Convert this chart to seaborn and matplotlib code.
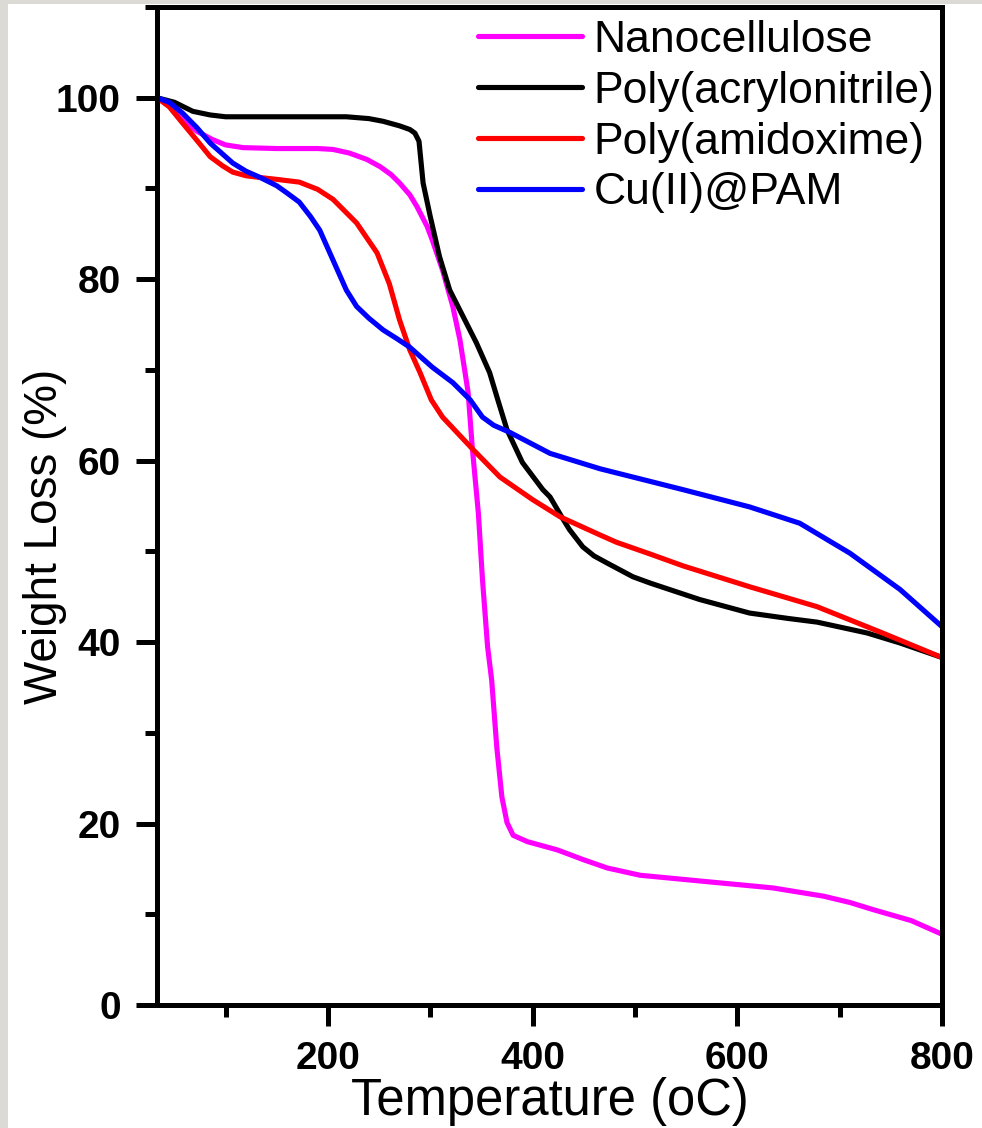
import matplotlib
matplotlib.use("Agg")
import matplotlib.pyplot as plt
from matplotlib.patches import Rectangle
from matplotlib.ticker import FixedLocator
from matplotlib.lines import Line2D
import seaborn as sns
import pandas as pd

# ---- data ----
nano_T = [33, 45, 58, 72, 87, 100, 117, 150, 190, 205, 221, 238, 251, 262, 270, 280, 287,
          297, 302, 312, 322, 329, 334, 337, 341, 347, 351, 356, 360, 365, 370, 375, 381,
          395, 424, 450, 473, 505, 570, 635, 684, 710, 733, 770, 800]
nano_W = [100, 99.4, 97.6, 96.3, 95.4, 94.8, 94.5, 94.4, 94.4, 94.3, 93.9, 93.2, 92.4, 91.5,
          90.6, 89.3, 88.0, 85.8, 84.3, 81.0, 77.0, 73.3, 69.7, 67.5, 61.5, 54.2, 46.9, 39.5,
          35.8, 28.4, 22.9, 20.1, 18.7, 18.0, 17.1, 16.0, 15.1, 14.3, 13.6, 12.9, 12.0, 11.3,
          10.5, 9.3, 7.8]

pan_T = [33, 50, 68, 85, 100, 150, 218, 240, 254, 270, 280, 285, 289, 293, 300, 309, 319,
         332, 345, 358, 366, 375, 390, 410, 417, 430, 436, 449, 460, 473, 498, 515, 563, 612,
         650, 678, 727, 759, 800]
pan_W = [100, 99.5, 98.5, 98.1, 97.9, 97.9, 97.9, 97.7, 97.4, 96.9, 96.5, 96.1, 95.2, 90.6,
         86.9, 82.5, 78.8, 75.9, 73.0, 69.7, 66.7, 63.4, 59.8, 56.8, 56.0, 53.5, 52.4, 50.5,
         49.5, 48.7, 47.2, 46.5, 44.7, 43.2, 42.6, 42.2, 41.0, 39.9, 38.3]

pam_T = [33, 45, 58, 72, 85, 97, 107, 120, 134, 150, 172, 190, 205, 228, 248, 260, 270, 280,
         290, 301, 312, 327, 342, 368, 400, 427, 466, 482, 515, 547, 612, 678, 742, 800]
pam_W = [100, 99.0, 97.2, 95.3, 93.5, 92.5, 91.8, 91.4, 91.2, 91.0, 90.7, 89.9, 88.8, 86.2,
         82.9, 79.5, 75.5, 72.2, 69.7, 66.7, 64.8, 63.0, 61.2, 58.2, 55.7, 53.8, 51.8, 51.0,
         49.7, 48.4, 46.1, 43.9, 41.0, 38.3]

cu_T = [33, 45, 58, 72, 85, 97, 107, 120, 134, 150, 160, 172, 183, 192, 205, 218, 228, 240,
        254, 268, 280, 302, 322, 339, 351, 362, 378, 417, 466, 547, 612, 661, 710, 759, 800]
cu_W = [100, 99.5, 98.3, 96.7, 95.0, 93.8, 92.8, 91.9, 91.2, 90.3, 89.5, 88.5, 86.9, 85.4,
        82.1, 78.8, 77.0, 75.7, 74.4, 73.4, 72.5, 70.3, 68.6, 66.7, 64.8, 63.9, 63.1, 60.8,
        59.1, 56.8, 54.9, 53.1, 49.8, 45.8, 41.7]

series_names = ["Nanocellulose", "Poly(acrylonitrile)", "Poly(amidoxime)", "Cu(II)@PAM"]
series_colors = ["#ff00ff", "#000000", "#ff0000", "#0000ff"]
x_major_ticks = [200, 400, 600, 800]
x_minor_ticks = [100, 300, 500, 700]
y_major_ticks = [0, 20, 40, 60, 80, 100]
y_minor_ticks = [10, 30, 50, 70, 90, 110]

frames = []
for name, T, W in zip(series_names, [nano_T, pan_T, pam_T, cu_T], [nano_W, pan_W, pam_W, cu_W]):
    frames.append(pd.DataFrame({"T": T, "W": W, "series": name}))
df = pd.concat(frames, ignore_index=True)

# ---- style ----
sns.set_theme(style="ticks")
plt.rcParams["font.family"] = ["Liberation Sans", "DejaVu Sans"]
for k in ["text.color", "axes.labelcolor", "xtick.color", "ytick.color", "axes.edgecolor"]:
    plt.rcParams[k] = "black"

W_PX, H_PX, DPI = 982, 1128, 100
fig = plt.figure(figsize=(W_PX / DPI, H_PX / DPI), dpi=DPI, facecolor="#dcdad5")
fig.patches.append(Rectangle((8 / W_PX, 0), 1 - 8 / W_PX, 1 - 4 / H_PX,
                             transform=fig.transFigure, facecolor="white",
                             edgecolor="none", zorder=-10))

left, right, bottom, top = 157 / W_PX, 942 / W_PX, 1 - 1005 / H_PX, 1 - 7 / H_PX
ax = fig.add_axes([left, bottom, right - left, top - bottom])
ax.set_facecolor("white")

sns.lineplot(data=df, x="T", y="W", hue="series", hue_order=series_names,
             palette=dict(zip(series_names, series_colors)), estimator=None,
             sort=False, linewidth=3.7, ax=ax, legend=False,
             solid_joinstyle="round", solid_capstyle="round")

ax.set_xlim(33, 800)
ax.set_ylim(0, 110)
ax.xaxis.set_major_locator(FixedLocator(x_major_ticks))
ax.xaxis.set_minor_locator(FixedLocator(x_minor_ticks))
ax.yaxis.set_major_locator(FixedLocator(y_major_ticks))
ax.yaxis.set_minor_locator(FixedLocator(y_minor_ticks))

for sp in ax.spines.values():
    sp.set_linewidth(3.6)
    sp.set_color("black")
    sp.set_visible(True)

ax.tick_params(which="major", direction="out", length=15, width=3.6, color="black",
               labelsize=28, pad=11, labelcolor="black")
ax.tick_params(which="minor", direction="out", length=8.5, width=3.6, color="black")
for lab in ax.get_xticklabels() + ax.get_yticklabels():
    lab.set_fontweight("bold")

ax.set_xlabel("Temperature (oC)", fontsize=36.5, labelpad=0, color="black")
ax.set_ylabel("Weight Loss (%)", fontsize=33, color="black")
ax.yaxis.set_label_coords(-0.115, 0.47)

# legend
handles = [Line2D([], [], color=c, lw=3.7, solid_capstyle="round") for c in series_colors]
leg = fig.legend(handles, series_names, loc="upper left",
                 bbox_to_anchor=(478 / W_PX, 1 - 20 / H_PX), bbox_transform=fig.transFigure,
                 frameon=False, fontsize=32, handlelength=2.35, handletextpad=0.25,
                 labelspacing=0.22, borderpad=0, borderaxespad=0)
for t in leg.get_texts():
    t.set_color("black")

fig.savefig("out.png", dpi=DPI, facecolor=fig.get_facecolor())
